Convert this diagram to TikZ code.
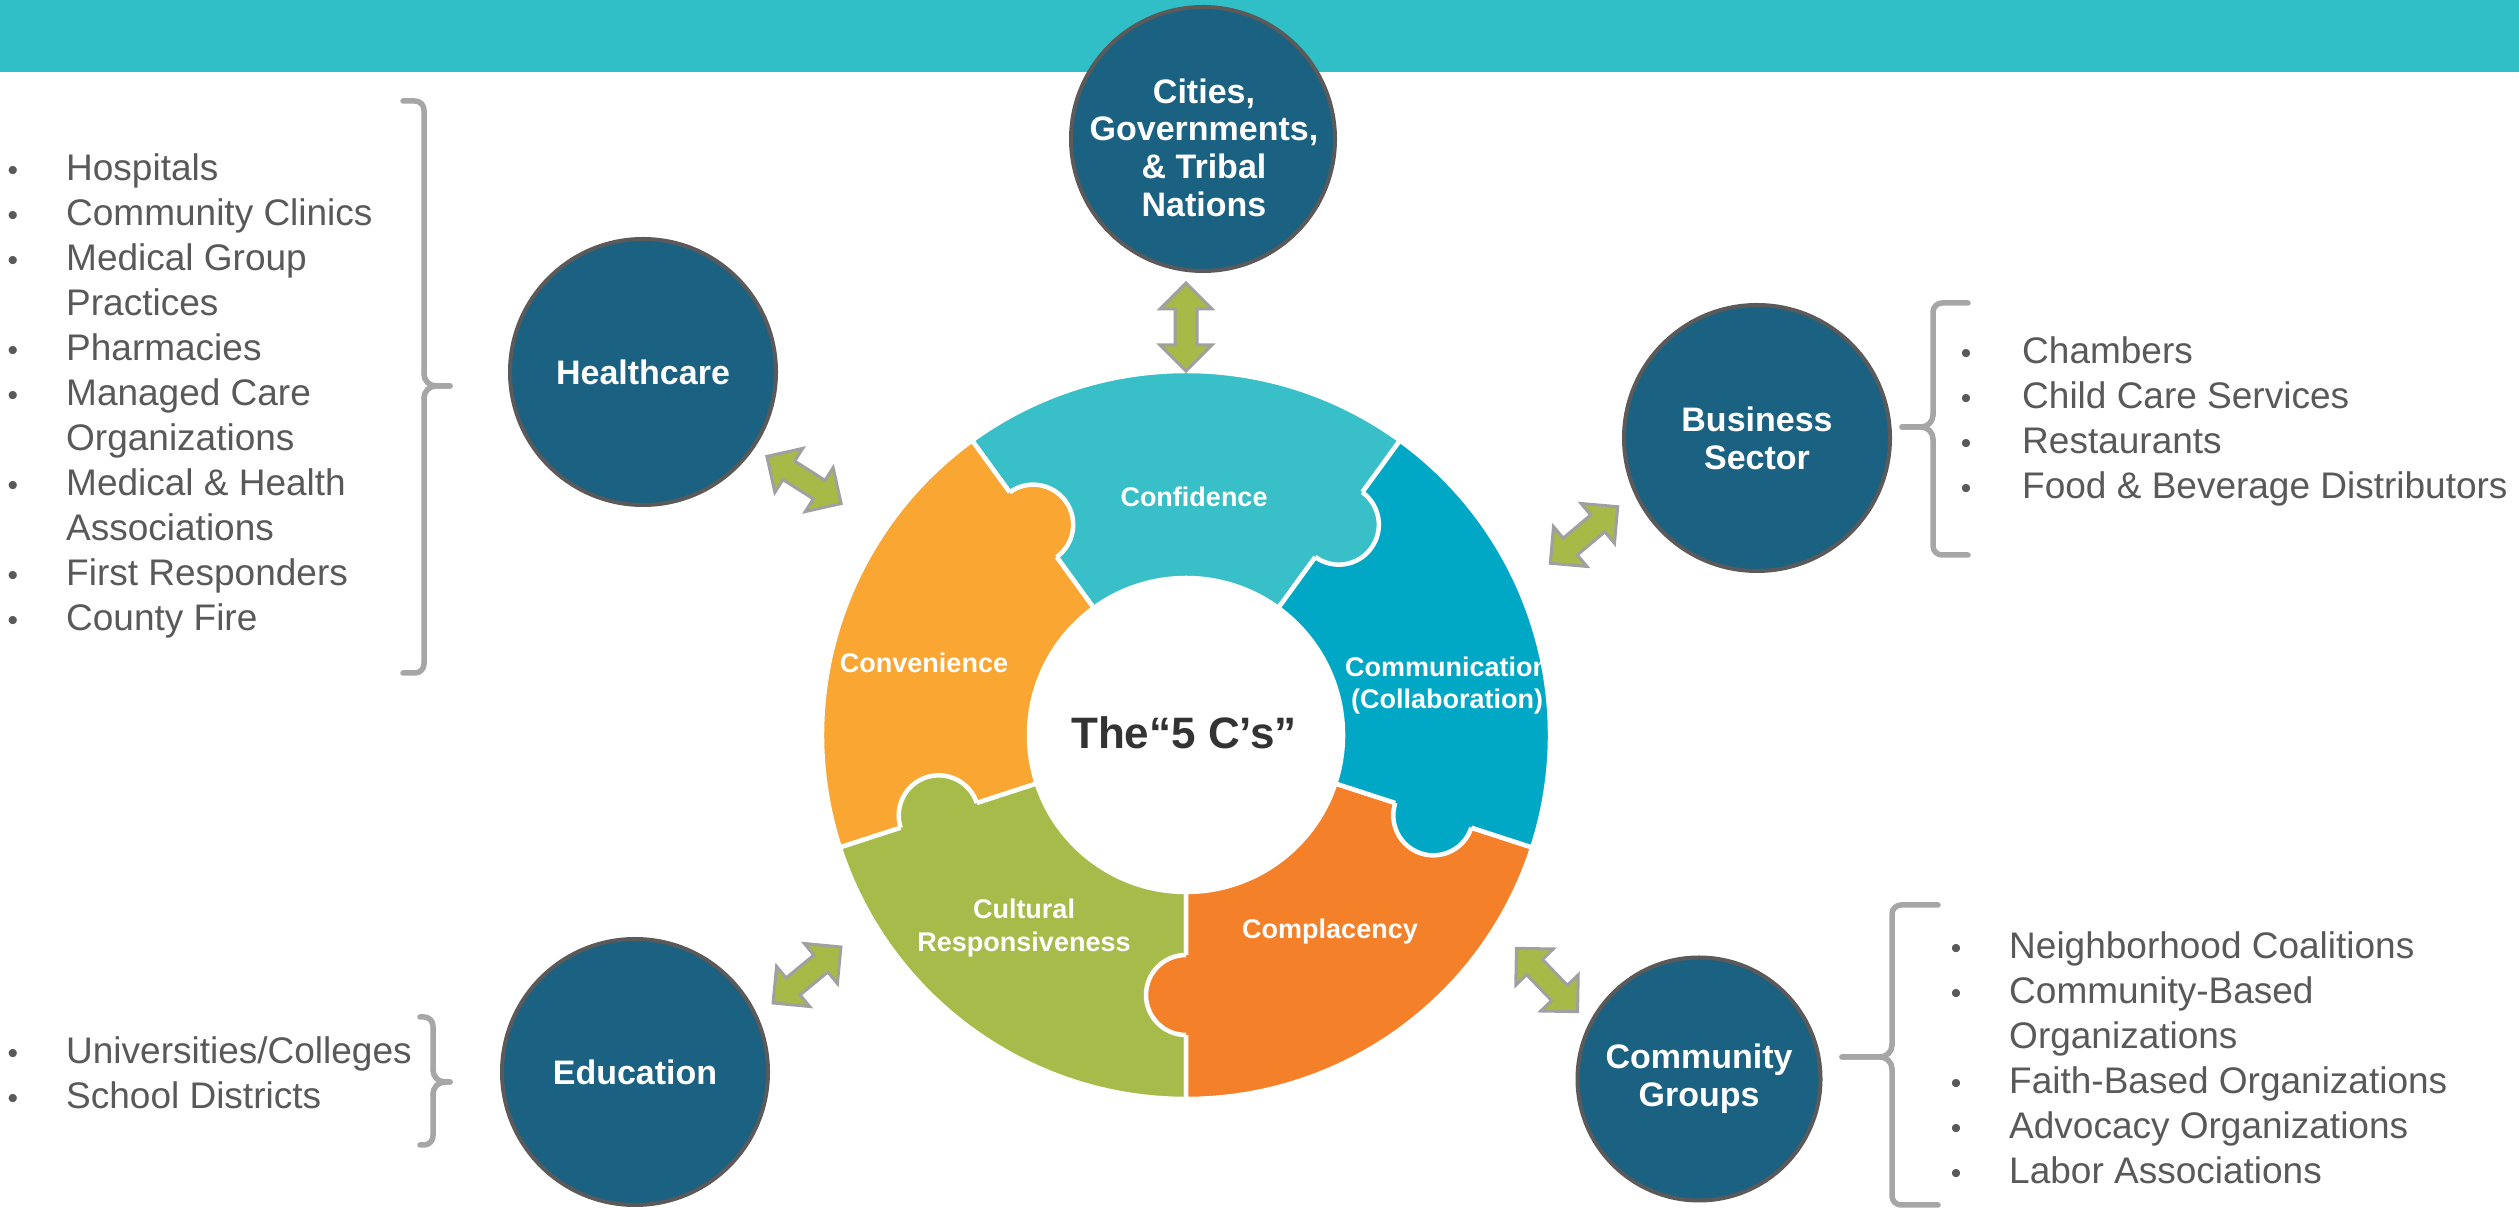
\documentclass[tikz,border=0pt]{standalone}
\usepackage{fontspec}
\setmainfont{Liberation Sans}
\usetikzlibrary{calc}
\definecolor{banner}{HTML}{31BFC7}
\definecolor{navy}{HTML}{1A6182}
\definecolor{ringgray}{HTML}{5A5A5A}
\definecolor{cconf}{HTML}{38BFC8}
\definecolor{ccomm}{HTML}{00A8C6}
\definecolor{ccomp}{HTML}{F48029}
\definecolor{ccult}{HTML}{A7BB4A}
\definecolor{cconv}{HTML}{F9A633}
\definecolor{agreen}{HTML}{A7BA48}
\definecolor{agray}{HTML}{A0A0A0}
\definecolor{txtgray}{HTML}{595959}
\definecolor{brgray}{HTML}{A6A6A6}
\definecolor{ctext}{HTML}{333333}

\newcommand\ringR{364}
\newcommand\ringr{157}
\newcommand\knobm{260}
\newcommand\knobr{40}

\newcommand\puzzlepiece[2]{%
  \filldraw[piece, fill=#1] ($(O)+(#2:\ringr)$) -- ($(O)+(#2:\ringR)$)
    arc[start angle=#2, end angle=#2+72, radius=\ringR]
    -- ($(O)+(#2+72:\ringr)$)
    arc[start angle=#2+72, end angle=#2, radius=\ringr] -- cycle;}
\newcommand\puzzleknob[2]{%
  \fill[#1] ($(O)+(#2:\knobm)$) circle[radius=\knobr];
  \draw[white, line width=4.5pt] ($(O)+(#2:\knobm-\knobr)$)
    arc[start angle=#2+180, end angle=#2+360, radius=\knobr];}
\newcommand\blockarrow[2]{%
  \begin{scope}[shift={#1}, rotate=#2]
    \filldraw[barrow] (-44,0) -- (-18,26) -- (-18,11) -- (18,11) -- (18,26)
      -- (44,0) -- (18,-26) -- (18,-11) -- (-18,-11) -- (-18,-26) -- cycle;
  \end{scope}}
% brace with tip to the right: vx, top, mid, bot, hook x, tip x
\newcommand\mybraceR[6]{%
  \draw[brace, rounded corners=9pt] (#5,#2) -- (#1,#2) -- (#1,#3+12);
  \draw[brace] (#1,#3+12) to[out=-90,in=180] (#1+12,#3) -- (#6,#3);
  \draw[brace] (#6,#3) -- (#1+12,#3) to[out=180,in=90] (#1,#3-12);
  \draw[brace, rounded corners=9pt] (#1,#3-12) -- (#1,#4) -- (#5,#4);}
% brace with tip to the left
\newcommand\mybraceL[6]{%
  \draw[brace, rounded corners=9pt] (#5,#2) -- (#1,#2) -- (#1,#3+12);
  \draw[brace] (#1,#3+12) to[out=-90,in=0] (#1-12,#3) -- (#6,#3);
  \draw[brace] (#6,#3) -- (#1-12,#3) to[out=0,in=90] (#1,#3-12);
  \draw[brace, rounded corners=9pt] (#1,#3-12) -- (#1,#4) -- (#5,#4);}
\newcommand\blt[5]{\node[bul] (#1b) at (#2,#4) {•}; \node[lt] (#1) at (#3,#4) {#5};}
\newcommand\cnt[4]{\node[lt] (#1) at (#2,#3) {#4};}

\begin{document}
\begin{tikzpicture}[x=1pt,y=1pt,
  grp/.style={circle, fill=navy, draw=ringgray, line width=4pt, inner sep=0pt,
    minimum size=#1, text=white, font=\bfseries\fontsize{34}{38}\selectfont, align=center},
  ringlbl/.style={text=white, font=\bfseries\fontsize{27}{32.5}\selectfont, align=center, inner sep=0pt},
  bul/.style={anchor=base, inner sep=0pt, text=txtgray, font=\fontsize{30}{45}\selectfont},
  lt/.style={anchor=base west, inner sep=0pt, text=txtgray, font=\fontsize{37}{45}\selectfont},
  brace/.style={draw=brgray, line width=5.5pt, line cap=round, line join=round},
  barrow/.style={fill=agreen, draw=agray, line width=3pt, line join=miter},
  piece/.style={draw=white, line width=4.5pt, line join=round}]

\useasboundingbox (0,0) rectangle (2519,1209);
\fill[white] (0,0) rectangle (2519,1209);
\fill[banner] (0,1137) rectangle (2519,1209);

% ring of puzzle pieces
\coordinate (O) at (1186,474);
\puzzlepiece{cconf}{54}
\puzzlepiece{cconv}{126}
\puzzlepiece{ccult}{198}
\puzzlepiece{ccomp}{270}
\puzzlepiece{ccomm}{342}
\puzzleknob{cconf}{54}
\puzzleknob{cconv}{126}
\puzzleknob{ccult}{198}
\puzzleknob{ccomp}{270}
\puzzleknob{ccomm}{342}

\node[ringlbl] (lconf) at (1194,712.5) {Confidence};
\node[ringlbl] (lconv) at (924,546.5) {Convenience};
\node[ringlbl] (lcomm) at (1447,523.5) {Communication\\(Collaboration)};
\node[ringlbl] (lcult) at (1024,281) {Cultural\\Responsiveness};
\node[ringlbl] (lcomp) at (1330,277.5) {Complacency};
\node[text=ctext, font=\bfseries\fontsize{44}{50}\selectfont, inner sep=0pt] (five) at (1184,476.5) {The“5 C’s”};

% stakeholder circles
\node[grp=264] (cities) at (1203,1070) {};
\node[text=white, font=\bfseries\fontsize{34}{37.7}\selectfont, align=center, inner sep=0pt]
  (citiesl) at (1204,1061.5) {Cities,\\Governments,\\\& Tribal\\Nations};
\node[grp=266] (health) at (643,837) {Healthcare};
\node[grp=266] (biz) at (1757,771) {Business\\Sector};
\node[grp=266] (edu) at (635,137) {Education};
\node[grp=243] (comm) at (1699,130) {Community\\Groups};

% double arrows
\coordinate (av) at (1186,882);
\coordinate (ah) at (804,729);
\coordinate (ab) at (1584,674);
\coordinate (ae) at (807,234);
\coordinate (ac) at (1547,229);
\blockarrow{(av)}{90}
\blockarrow{(ah)}{-32.4}
\blockarrow{(ab)}{40}
\blockarrow{(ae)}{39.5}
\blockarrow{(ac)}{-46}

% braces
\mybraceR{424}{1108}{823}{536}{403}{450}
\mybraceR{433}{192}{127}{64}{420}{450}
\mybraceL{1933}{906}{782}{654}{1968}{1902}
\mybraceL{1892}{304}{152}{4}{1938}{1842}

% healthcare list
\blt{h1}{13}{66}{1028}{Hospitals}
\blt{h2}{13}{66}{983}{Community Clinics}
\blt{h3}{13}{66}{938}{Medical Group}
\cnt{h4}{66}{893}{Practices}
\blt{h5}{13}{66}{848}{Pharmacies}
\blt{h6}{13}{66}{803}{Managed Care}
\cnt{h7}{66}{758}{Organizations}
\blt{h8}{13}{66}{713}{Medical \& Health}
\cnt{h9}{66}{668}{Associations}
\blt{h10}{13}{66}{623}{First Responders}
\blt{h11}{13}{66}{578}{County Fire}

% education list
\blt{e1}{13}{66}{145}{Universities/Colleges}
\blt{e2}{13}{66}{100}{School Districts}

% business list
\blt{b1}{1966}{2022}{845}{Chambers}
\blt{b2}{1966}{2022}{800}{Child Care Services}
\blt{b3}{1966}{2022}{755}{Restaurants}
\blt{b4}{1966}{2022}{710}{Food \& Beverage Distributors}

% community list
\blt{c1}{1956}{2009}{250}{Neighborhood Coalitions}
\blt{c2}{1956}{2009}{205}{Community-Based}
\cnt{c3}{2009}{160}{Organizations}
\blt{c4}{1956}{2009}{115}{Faith-Based Organizations}
\blt{c5}{1956}{2009}{70}{Advocacy Organizations}
\blt{c6}{1956}{2009}{25}{Labor Associations}
\end{tikzpicture}
\end{document}
